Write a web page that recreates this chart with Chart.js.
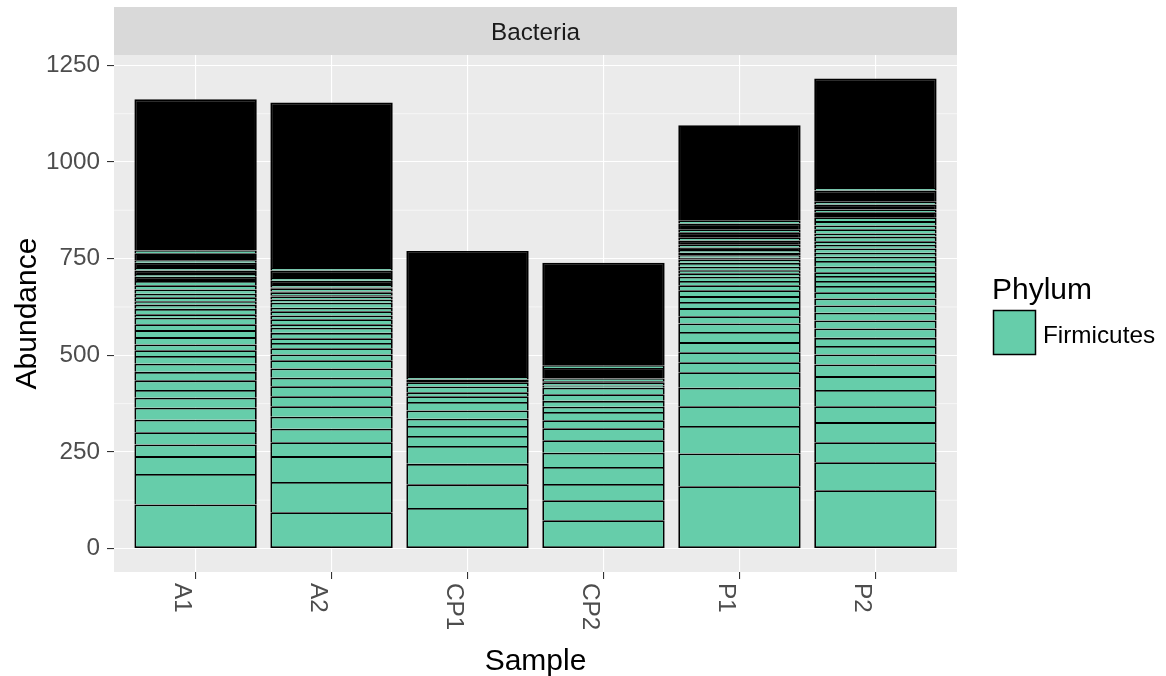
<!DOCTYPE html>
<html>
<head>
<meta charset="utf-8">
<script src="https://cdn.jsdelivr.net/npm/chart.js@4.4.0/dist/chart.umd.min.js"></script>
<style>
  html, body { margin: 0; padding: 0; background: #fff; }
</style>
</head>
<body>
<canvas id="AbundanceChart" width="1166" height="676"></canvas>
<script>
const samples = ["A1", "A2", "CP1", "CP2", "P1", "P2"];
const yTicks = [0, 250, 500, 750, 1000, 1250];
const yMinor = [125, 375, 625, 875, 1125];

// Firmicutes OTU abundances per sample, bottom to top
const otuA1 = [114, 79, 46, 30, 32, 32, 31, 26, 20, 25, 22, 21, 20, 15, 15, 19, 18, 15, 17, 9, 14, 11, 9, 10, 9, 11, 11, 11, 7, 7, 7, 7];
const otuA2 = [94, 78, 67, 36, 35, 31, 27, 26, 26, 22, 24, 21, 15, 16, 14, 12, 14, 13, 9, 13, 10, 11, 9, 13, 8, 8, 7, 7, 7, 7, 7];
const otuCP1 = [105, 61, 53, 46, 26, 26, 19, 21, 22, 15, 10, 15, 11, 7];
const otuCP2 = [73, 52, 42, 44, 37, 32, 31, 21, 21, 14, 15, 17, 17, 6, 7, 7, 7];
const otuP1 = [161, 85, 71, 51, 48, 40, 26, 26, 26, 26, 22, 19, 21, 16, 15, 15, 13, 11, 11, 9, 8, 9, 10, 9, 7, 7, 7, 7, 7, 7];
const otuP2 = [151, 72, 52, 52, 41, 42, 36, 30, 26, 22, 21, 24, 21, 20, 19, 18, 16, 16, 13, 13, 10, 14, 15, 11, 10, 11, 10, 9, 12, 8, 11, 10, 11, 10, 7, 7, 7];

// runs of OTUs too thin to show their fill, sitting above the OTU at the same position
const rareA1 = [0, 0, 0, 0, 0, 0, 0, 0, 0, 0, 0, 0, 0, 0, 0, 0, 0, 0, 0, 0, 0, 0, 0, 0, 0, 0, 0, 11, 9, 13, 18, 391];
const rareA2 = [0, 0, 0, 0, 0, 0, 0, 0, 0, 0, 0, 0, 0, 0, 0, 0, 0, 0, 0, 0, 0, 0, 0, 0, 0, 3, 3, 3, 11, 19, 428];
const rareCP1 = [0, 0, 0, 0, 0, 0, 0, 0, 0, 0, 0, 0, 7, 326];
const rareCP2 = [0, 0, 0, 0, 0, 0, 0, 0, 0, 0, 0, 0, 0, 0, 4, 27, 265];
const rareP1 = [0, 0, 0, 0, 0, 0, 0, 0, 0, 0, 0, 0, 0, 0, 0, 0, 0, 0, 0, 0, 0, 0, 0, 4, 6, 7, 11, 14, 16, 247];
const rareP2 = [0, 0, 0, 0, 0, 0, 0, 0, 0, 0, 0, 0, 0, 0, 0, 0, 0, 0, 0, 0, 0, 0, 0, 0, 0, 0, 0, 0, 0, 0, 0, 0, 0, 13, 13, 29, 283];

const otus = [otuA1, otuA2, otuCP1, otuCP2, otuP1, otuP2];
const rares = [rareA1, rareA2, rareCP1, rareCP2, rareP1, rareP2];

const GREEN = "rgb(102,205,170)";
const FONT = "'Liberation Sans', Arial, sans-serif";
const SMALL = 24.3;
const LARGE = 30;

function AbundanceChart() {
    const ctx = document.getElementById("AbundanceChart");

    const totals = otus.map((o, i) => o.concat(rares[i]).reduce((a, b) => a + b, 0));
    const top = Math.max(...totals);
    const layers = Math.max(...otus.map(o => o.length));

    const datasets = [];
    for (let k = 0; k < layers; k++) {
        datasets.push({
            label: "Firmicutes",
            data: otus.map((o, i) => ({ x: i, y: o[k] })).filter(p => p.y !== undefined),
            backgroundColor: GREEN,
            borderColor: "#000",
            borderWidth: 1.8,
            borderSkipped: k === 0 ? false : "start",
        });
        datasets.push({
            label: "Firmicutes",
            data: rares.map((r, i) => ({ x: i, y: r[k] })).filter(p => p.y),
            backgroundColor: "#000",
            borderColor: "#000",
            borderWidth: 1.8,
            borderSkipped: "start",
        });
    }

    const ggDecor = {
        id: "ggDecor",
        beforeDraw(chart) {
            const c = chart.ctx, a = chart.chartArea, y = chart.scales.y;
            c.save();
            c.fillStyle = "#fff";
            c.fillRect(0, 0, chart.width, chart.height);
            c.fillStyle = "#EBEBEB";
            c.fillRect(a.left, a.top, a.right - a.left, a.bottom - a.top);
            c.strokeStyle = "#fff";
            c.lineWidth = 0.55;
            yMinor.forEach(v => {
                const py = y.getPixelForValue(v);
                c.beginPath();
                c.moveTo(a.left, py);
                c.lineTo(a.right, py);
                c.stroke();
            });
            c.restore();
        },
        afterDraw(chart) {
            const c = chart.ctx, a = chart.chartArea, x = chart.scales.x;
            c.save();
            // facet strip
            c.fillStyle = "#D9D9D9";
            c.fillRect(a.left, 7, a.right - a.left, a.top - 7);
            c.fillStyle = "#1A1A1A";
            c.font = SMALL + "px " + FONT;
            c.textAlign = "center";
            c.textBaseline = "alphabetic";
            c.fillText("Bacteria", (a.left + a.right) / 2, 39.5);

            // x tick labels, turned clockwise
            c.fillStyle = "#4D4D4D";
            c.textAlign = "left";
            samples.forEach((s, i) => {
                const px = x.getPixelForValue(i);
                c.save();
                c.translate(px - 20.5, a.bottom + 11);
                c.rotate(Math.PI / 2);
                c.fillText(s, 0, 0);
                c.restore();
            });

            // axis titles
            c.fillStyle = "#000";
            c.font = LARGE + "px " + FONT;
            c.textAlign = "center";
            c.fillText("Sample", (a.left + a.right) / 2, 670);
            c.save();
            c.translate(36, (a.top + a.bottom) / 2);
            c.rotate(-Math.PI / 2);
            c.fillText("Abundance", 0, 0);
            c.restore();

            // legend
            c.textAlign = "left";
            c.fillText("Phylum", 992, 298.5);
            c.fillStyle = GREEN;
            c.fillRect(993.5, 310.5, 42, 44);
            c.strokeStyle = "#000";
            c.lineWidth = 1.5;
            c.strokeRect(993.5, 310.5, 42, 44);
            c.fillStyle = "#000";
            c.font = SMALL + "px " + FONT;
            c.fillText("Firmicutes", 1043, 342.5);
            c.restore();
        },
    };

    new Chart(ctx, {
        type: "bar",
        data: { datasets },
        options: {
            responsive: false,
            animation: false,
            devicePixelRatio: 1,
            barPercentage: 0.9,
            categoryPercentage: 1,
            layout: {
                padding: { left: 0, top: 55, right: 209, bottom: 0 },
            },
            scales: {
                x: {
                    type: "linear",
                    stacked: true,
                    offset: false,
                    min: -0.6,
                    max: samples.length - 0.4,
                    afterBuildTicks: s => { s.ticks = samples.map((_, i) => ({ value: i })); },
                    afterFit: s => { s.height = 104; },
                    ticks: { display: false },
                    grid: { offset: false, color: "#fff", lineWidth: 1.1, tickColor: "#333", tickLength: 7, tickWidth: 1.1 },
                    border: { display: false },
                },
                y: {
                    stacked: true,
                    min: -0.05 * top,
                    max: 1.05 * top,
                    afterBuildTicks: s => { s.ticks = yTicks.map(v => ({ value: v })); },
                    afterFit: s => { s.width = 114; },
                    ticks: {
                        callback: v => String(v),
                        color: "#4D4D4D",
                        font: { family: FONT, size: SMALL },
                        padding: 7,
                    },
                    grid: { color: "#fff", lineWidth: 1.1, tickColor: "#333", tickLength: 7, tickWidth: 1.1 },
                    border: { display: false },
                },
            },
            plugins: {
                legend: { display: false },
                tooltip: { enabled: true },
            },
        },
        plugins: [ggDecor],
    });
}

AbundanceChart();
</script>
</body>
</html>
